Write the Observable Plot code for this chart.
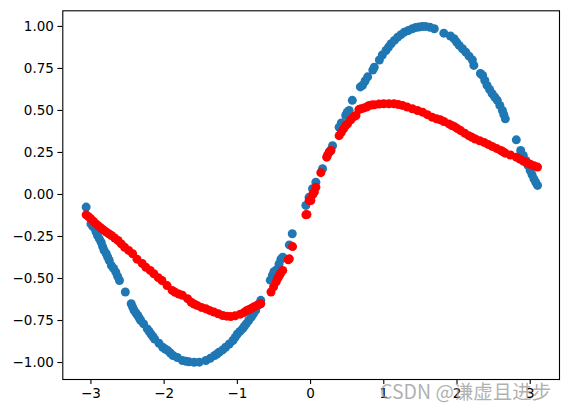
<!DOCTYPE html>
<html>
<head>
<meta charset="utf-8">
<script src="https://cdn.jsdelivr.net/npm/d3@7"></script>
<script src="https://cdn.jsdelivr.net/npm/@observablehq/plot@0.6"></script>
<style>
  html, body { margin: 0; padding: 0; background: #fff; }
  #wrap { position: relative; width: 568px; height: 413px; }
  #wm { position: absolute; left: 380px; top: 381px; font-family: "Noto Sans CJK SC", "DejaVu Sans", sans-serif;
        font-size: 19.5px; color: rgba(150,150,150,0.75); white-space: nowrap; line-height: 1; }
</style>
</head>
<body>
<div id="wrap"></div>
<script>
// Blue series (true values)
const blueX = [-3.065,-3.0,-2.975,-2.95,-2.93,-2.91,-2.885,-2.86,-2.84,-2.82,-2.79,-2.77,-2.75,-2.72,-2.69,-2.66,-2.635,-2.61,-2.53,-2.45,-2.43,-2.41,-2.385,-2.36,-2.34,-2.32,-2.28,-2.23,-2.205,-2.18,-2.155,-2.13,-2.07,-2.02,-1.985,-1.95,-1.915,-1.88,-1.82,-1.75,-1.70,-1.66,-1.59,-1.52,-1.43,-1.37,-1.31,-1.28,-1.25,-1.20,-1.16,-1.11,-1.06,-1.03,-1.0,-0.965,-0.93,-0.905,-0.88,-0.845,-0.81,-0.78,-0.75,-0.715,-0.68,-0.55,-0.52,-0.50,-0.47,-0.43,-0.405,-0.38,-0.29,-0.25,-0.064,-0.02,0.027,0.072,0.164,0.254,0.277,0.30,0.39,0.42,0.48,0.50,0.527,0.57,0.68,0.71,0.745,0.78,0.85,0.87,0.94,0.98,1.03,1.065,1.10,1.145,1.19,1.235,1.28,1.335,1.39,1.435,1.48,1.525,1.57,1.63,1.69,1.82,1.91,1.96,1.995,2.03,2.075,2.12,2.165,2.21,2.23,2.32,2.35,2.38,2.41,2.445,2.48,2.515,2.55,2.585,2.62,2.64,2.66,2.81,2.87,2.905,2.94,2.97,3.0,3.025,3.05,3.075,3.10];
const blueY = [-0.075,-0.175,-0.19,-0.20,-0.222,-0.244,-0.264,-0.284,-0.31,-0.333,-0.353,-0.373,-0.393,-0.423,-0.44,-0.462,-0.487,-0.512,-0.58,-0.65,-0.67,-0.69,-0.705,-0.72,-0.735,-0.75,-0.77,-0.80,-0.815,-0.83,-0.845,-0.86,-0.885,-0.909,-0.92,-0.929,-0.943,-0.958,-0.97,-0.988,-0.993,-0.996,-0.999,-0.998,-0.988,-0.975,-0.958,-0.95,-0.939,-0.925,-0.909,-0.89,-0.869,-0.85,-0.83,-0.815,-0.80,-0.785,-0.77,-0.75,-0.73,-0.71,-0.69,-0.66,-0.63,-0.51,-0.48,-0.46,-0.45,-0.413,-0.385,-0.373,-0.30,-0.234,-0.065,-0.016,0.034,0.073,0.153,0.252,0.262,0.29,0.40,0.425,0.47,0.49,0.50,0.56,0.64,0.65,0.675,0.70,0.74,0.757,0.80,0.83,0.857,0.877,0.897,0.917,0.936,0.951,0.966,0.976,0.986,0.993,0.996,0.999,1.0,0.995,0.986,0.96,0.943,0.927,0.907,0.887,0.867,0.847,0.823,0.80,0.768,0.72,0.708,0.678,0.649,0.625,0.60,0.58,0.56,0.53,0.50,0.475,0.45,0.325,0.262,0.232,0.202,0.172,0.143,0.118,0.093,0.073,0.054];
// Red series (model predictions)
const redX = [-3.065,-3.03,-3.0,-2.965,-2.93,-2.895,-2.86,-2.825,-2.79,-2.755,-2.72,-2.675,-2.63,-2.585,-2.54,-2.485,-2.43,-2.37,-2.30,-2.25,-2.19,-2.14,-2.08,-2.03,-1.96,-1.89,-1.85,-1.80,-1.75,-1.68,-1.63,-1.59,-1.55,-1.49,-1.43,-1.38,-1.32,-1.26,-1.20,-1.145,-1.09,-1.03,-0.96,-0.91,-0.87,-0.84,-0.805,-0.77,-0.725,-0.68,-0.54,-0.505,-0.47,-0.45,-0.43,-0.41,-0.38,-0.305,-0.29,-0.246,-0.064,-0.05,-0.02,0.004,0.03,0.05,0.072,0.14,0.22,0.23,0.254,0.277,0.39,0.42,0.45,0.48,0.505,0.55,0.595,0.62,0.66,0.69,0.73,0.765,0.80,0.835,0.87,0.935,1.0,1.07,1.14,1.2,1.255,1.32,1.39,1.46,1.53,1.595,1.66,1.72,1.77,1.82,1.89,1.93,1.96,2.005,2.05,2.105,2.16,2.205,2.25,2.31,2.37,2.425,2.48,2.54,2.60,2.63,2.66,2.73,2.81,2.86,2.91,2.955,3.0,3.05,3.10];
const redY = [-0.121,-0.133,-0.145,-0.16,-0.175,-0.188,-0.20,-0.212,-0.224,-0.234,-0.244,-0.259,-0.274,-0.294,-0.314,-0.333,-0.353,-0.385,-0.41,-0.433,-0.452,-0.472,-0.495,-0.512,-0.542,-0.571,-0.582,-0.592,-0.60,-0.62,-0.641,-0.652,-0.66,-0.672,-0.68,-0.69,-0.70,-0.71,-0.72,-0.724,-0.726,-0.722,-0.712,-0.703,-0.69,-0.685,-0.677,-0.668,-0.658,-0.65,-0.58,-0.55,-0.52,-0.50,-0.485,-0.47,-0.452,-0.389,-0.383,-0.31,-0.121,-0.119,-0.036,-0.036,0.0,0.014,0.043,0.13,0.222,0.232,0.252,0.262,0.35,0.37,0.39,0.41,0.42,0.445,0.464,0.47,0.505,0.51,0.515,0.52,0.53,0.532,0.534,0.538,0.54,0.54,0.54,0.535,0.53,0.52,0.51,0.50,0.49,0.475,0.46,0.45,0.445,0.434,0.42,0.41,0.405,0.392,0.38,0.365,0.35,0.34,0.33,0.32,0.31,0.298,0.286,0.274,0.262,0.254,0.246,0.235,0.222,0.21,0.198,0.189,0.18,0.171,0.163];

const xTicks = [-3,-2,-1,0,1,2,3];
const yTicks = [-1.00,-0.75,-0.50,-0.25,0.00,0.25,0.50,0.75,1.00];

const blue = blueX.map((x, i) => ({x, y: blueY[i]}));
const red = redX.map((x, i) => ({x, y: redY[i]}));

const chart = Plot.plot({
  width: 568,
  height: 413,
  marginLeft: 62.3,
  marginRight: 9,
  marginTop: 10.3,
  marginBottom: 34,
  style: {fontFamily: "DejaVu Sans, sans-serif", fontSize: "13.5px", color: "black", background: "white"},
  x: {domain: [-3.384, 3.40]},
  y: {domain: [-1.101, 1.093]},
  marks: [
    Plot.axisX({ticks: xTicks, tickFormat: d3.format("d"), tickSize: 4.9, tickPadding: 4, label: null, stroke: "black", strokeWidth: 1.1}),
    Plot.axisY({ticks: yTicks, tickFormat: d3.format(".2f"), tickSize: 4.9, tickPadding: 4, label: null, stroke: "black", strokeWidth: 1.1}),
    Plot.dot(blue, {x: "x", y: "y", r: 4.5, fill: "#1f77b4", stroke: "none"}),
    Plot.dot(red, {x: "x", y: "y", r: 4.5, fill: "red", stroke: "none"}),
    Plot.frame({stroke: "black", strokeWidth: 1.1})
  ]
});
const wrap = document.getElementById("wrap");
wrap.appendChild(chart);
const wm = document.createElement("div");
wm.id = "wm";
wm.textContent = "CSDN @谦虚且进步";
wrap.appendChild(wm);
</script>
</body>
</html>
